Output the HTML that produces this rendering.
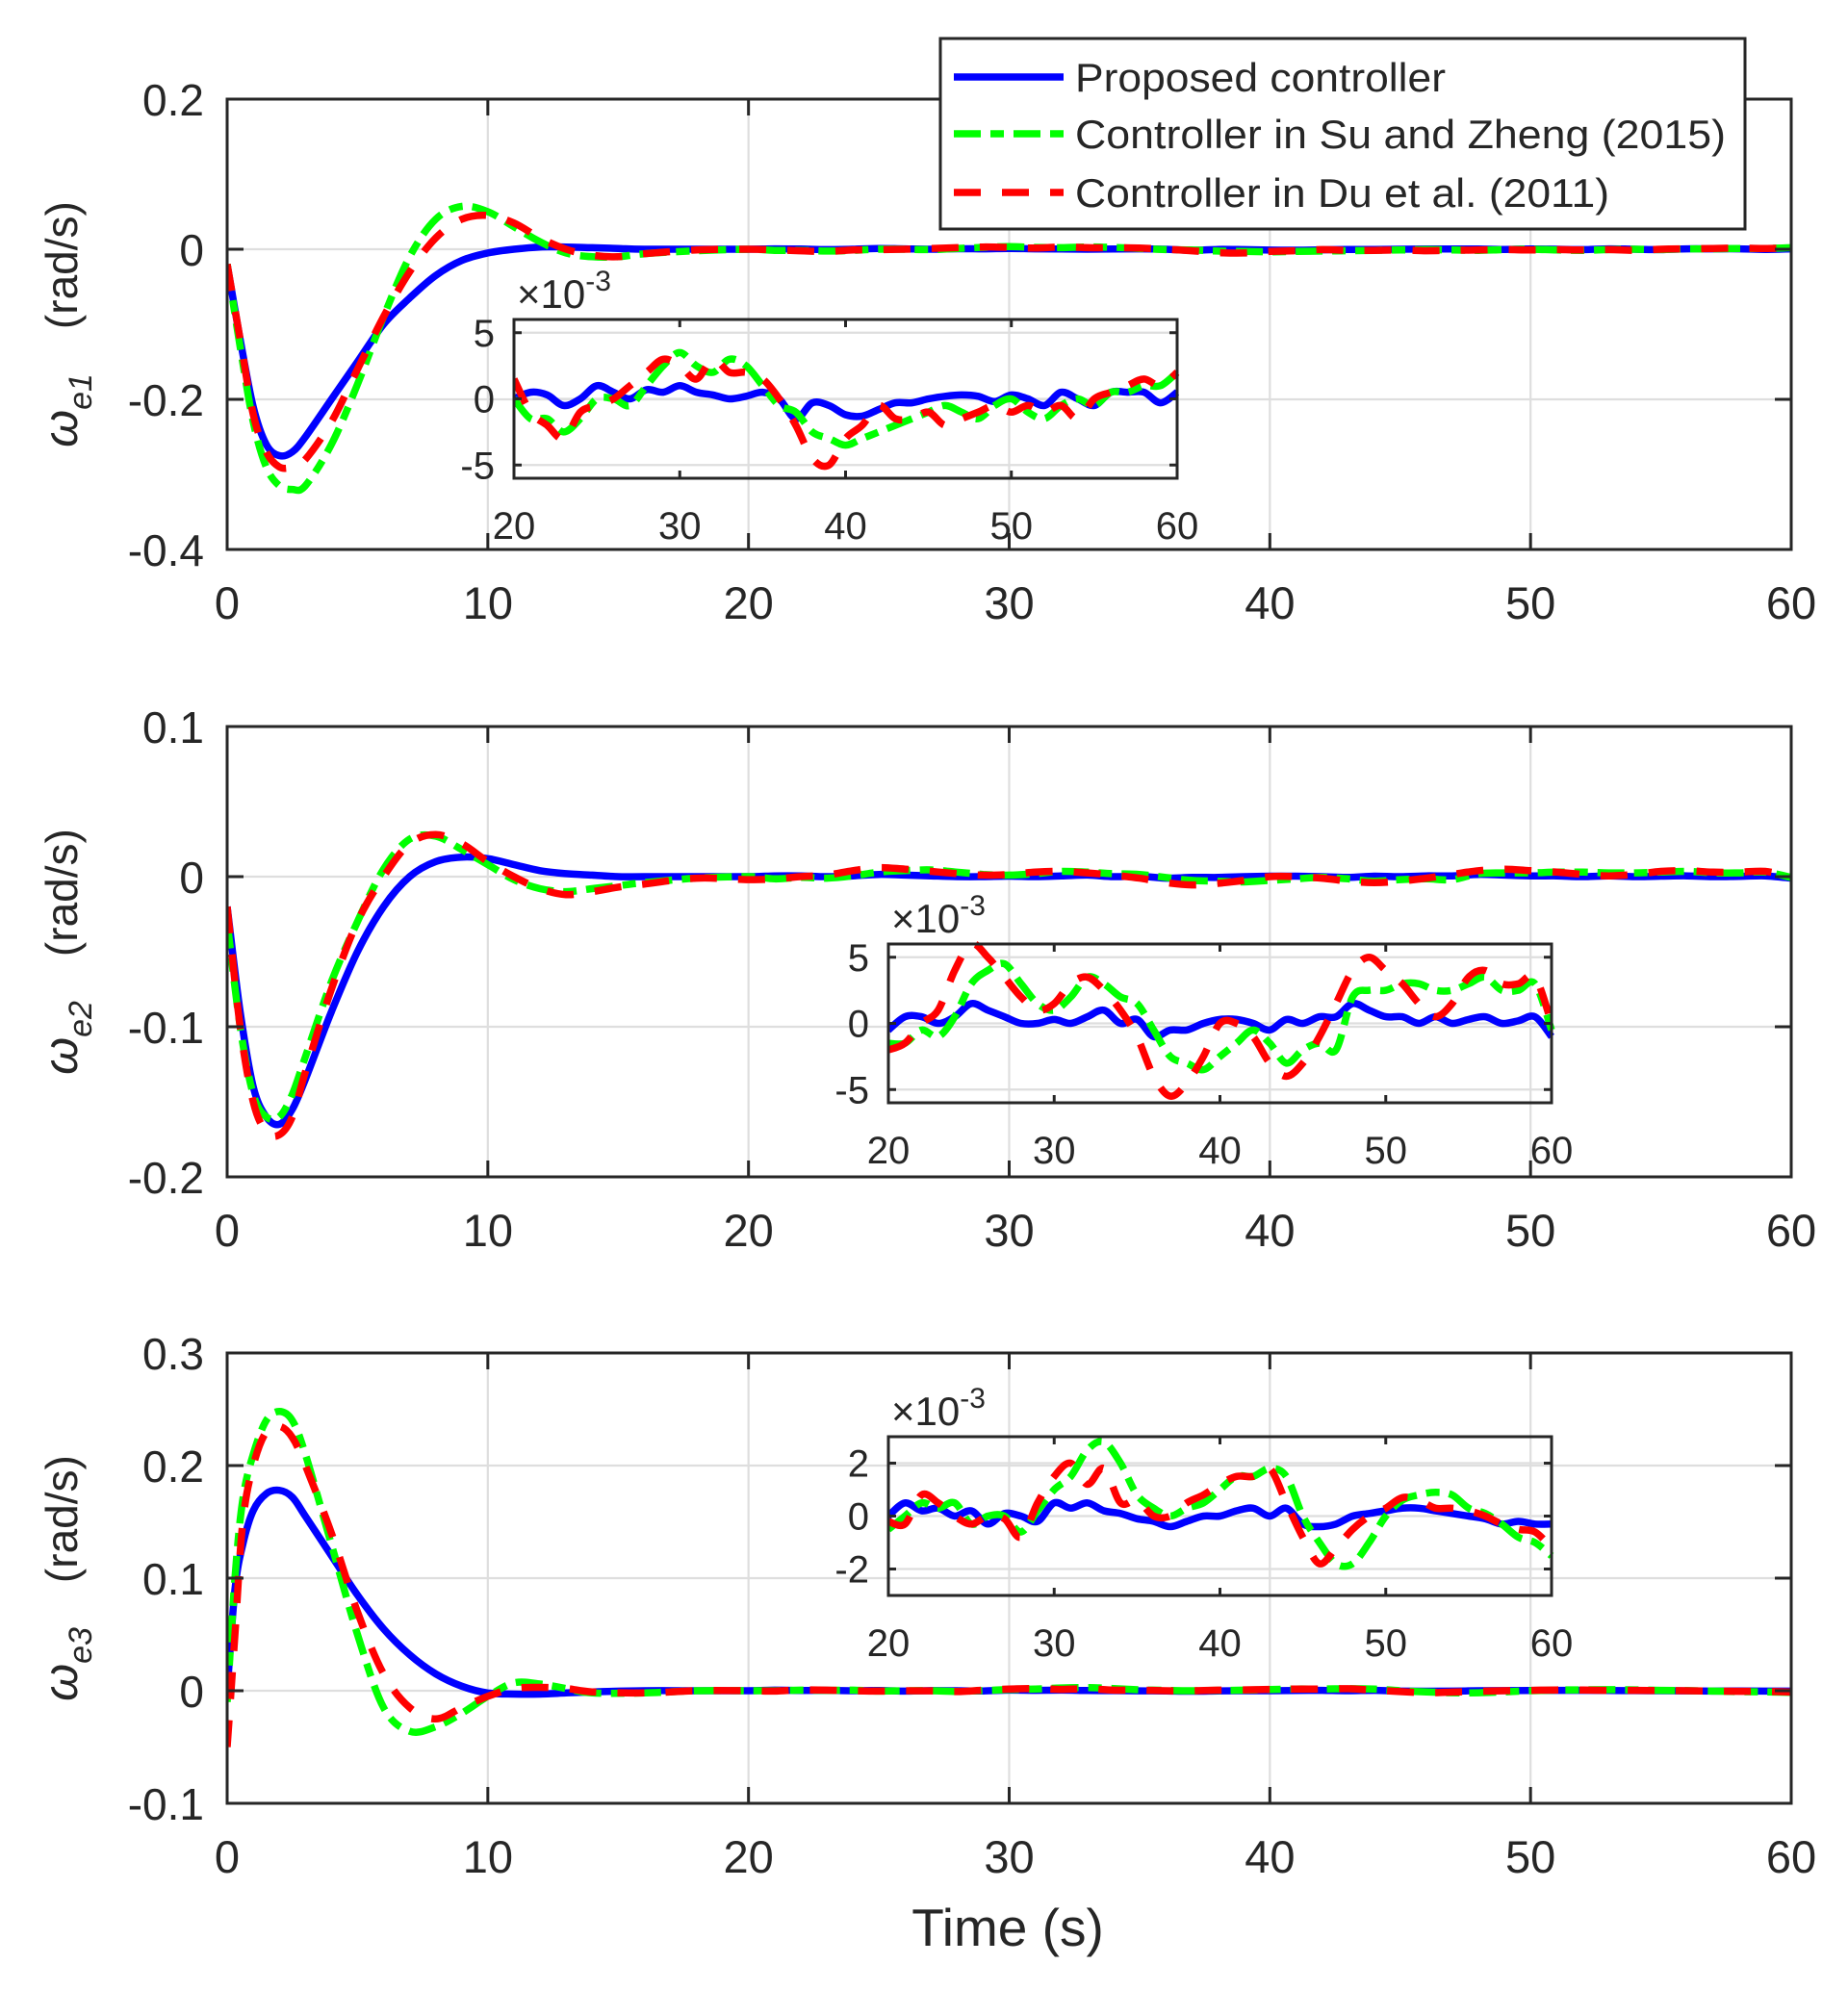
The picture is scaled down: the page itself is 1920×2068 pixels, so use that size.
<!DOCTYPE html>
<html><head><meta charset="utf-8"><style>
html,body{margin:0;padding:0;background:#fff;}
svg{display:block;}
text{font-family:"Liberation Sans",Arial,sans-serif;fill:#262626;}
</style></head><body>
<svg id="fig" width="1920" height="2068" viewBox="0 0 1920 2068" xmlns="http://www.w3.org/2000/svg"></svg>
<script>
// ---- data ----
const xTicks = [0,10,20,30,40,50,60];
const insetXTicks = [20,30,40,50,60];
// panel 1 (0..20 s)
const p1T = [0,0.5,1,1.5,2,2.5,3,4,5,6,7,8,9,10,11,12,13,14,15,16,18,20];
const p1Blue = [-0.02,-0.12,-0.21,-0.26,-0.275,-0.27,-0.25,-0.2,-0.15,-0.1,-0.065,-0.035,-0.015,-0.005,0,0.003,0.003,0.002,0.001,0,0,0];
const p1Green = [-0.02,-0.13,-0.23,-0.29,-0.315,-0.32,-0.315,-0.26,-0.18,-0.09,-0.01,0.04,0.057,0.05,0.03,0.01,-0.005,-0.01,-0.01,-0.006,-0.002,0];
const p1Red = [-0.02,-0.12,-0.22,-0.27,-0.29,-0.29,-0.28,-0.23,-0.16,-0.09,-0.03,0.015,0.04,0.045,0.035,0.015,0,-0.008,-0.01,-0.006,-0.001,0];
// panel 2
const p2T = [0,0.5,1,1.5,2,2.5,3,4,5,6,7,8,9,10,11,12,13,14,15,16,18,20];
const p2Blue = [-0.02,-0.09,-0.14,-0.16,-0.165,-0.155,-0.135,-0.09,-0.05,-0.02,0,0.01,0.013,0.012,0.008,0.004,0.002,0.001,0,0,0,0];
const p2Green = [-0.03,-0.1,-0.145,-0.16,-0.16,-0.145,-0.12,-0.07,-0.03,0.005,0.025,0.027,0.018,0.008,-0.002,-0.008,-0.01,-0.008,-0.006,-0.004,-0.001,0];
const p2Red = [-0.02,-0.1,-0.15,-0.17,-0.172,-0.16,-0.13,-0.075,-0.03,0,0.022,0.028,0.022,0.01,0,-0.008,-0.012,-0.01,-0.007,-0.005,-0.001,-0.002];
// panel 3
const p3T = [0,0.3,0.6,1,1.5,2,2.5,3,4,5,6,7,8,9,10,11,12,13,14,16,18,20];
const p3Blue = [0,0.09,0.13,0.16,0.175,0.178,0.172,0.155,0.12,0.085,0.055,0.032,0.015,0.004,-0.002,-0.003,-0.003,-0.002,-0.001,0,0,0];
const p3Green = [-0.01,0.1,0.17,0.21,0.24,0.248,0.24,0.21,0.13,0.05,-0.015,-0.036,-0.032,-0.02,-0.005,0.007,0.006,0.002,-0.002,-0.002,0,0];
const p3Red = [-0.05,0.05,0.15,0.2,0.23,0.235,0.225,0.2,0.14,0.07,0.015,-0.015,-0.025,-0.015,-0.005,0.002,0.003,0.002,-0.001,-0.002,0,0];
// insets (20..60 s, x1e-3)
const inT = [20,21,22,23,24,25,26,27,28,29,30,31,32,33,34,35,36,37,38,39,40,41,42,43,44,45,46,47,48,49,50,51,52,53,54,55,56,57,58,59,60];
const in1Blue = [0,0.5,0.3,-0.5,0,1,0.5,0,0.7,0.5,1,0.5,0.3,0,0.2,0.5,0,-1.5,-0.3,-0.5,-1.2,-1.3,-0.8,-0.3,-0.3,0,0.2,0.3,0.2,-0.2,0.3,0,-0.5,0.5,0,-0.5,0.5,0.5,0.5,-0.3,0.5];
const in1Green = [0,-1.5,-1.5,-2.5,-1.5,0,0,-0.5,1,2.5,3.5,2.5,2,3,2.5,1,-0.5,-1,-2.5,-3,-3.5,-3,-2.5,-2,-1.5,-1,-0.5,-1,-1.5,-0.5,0,-1,-1.5,-0.5,0,-0.5,0.5,0.5,1,1,2];
const in1Red = [1.5,-1,-2,-3,-1,-0.5,0,1,2,3,2.5,1.5,3,2,2,1.5,0,-2,-4.5,-5,-3,-2,-0.5,-1.5,-1.5,-1,-2,-1.5,-1,-0.5,-1,-0.5,-1,-0.5,-1.5,0,0.5,1,1.5,1,2];
const in2Blue = [-0.5,0.5,0.5,0,0.5,1.5,1,0.5,0,0,0.3,0,0.5,1,0,0.3,-1,-0.5,-0.5,0,0.3,0.3,0,-0.5,0.3,0,0.5,0.5,1.5,1,0.5,0.5,0,0.5,0,0.3,0.5,0,0.2,0.5,-1];
const in2Green = [-1.5,-1.5,-0.5,-1,0.5,3,4,4.5,3,1.5,1,2,3.5,3,2,1.5,-0.5,-2.5,-3,-3.5,-2.5,-1.5,-0.5,-1.5,-3,-2,-1.5,-2,2,2.5,2.5,3,3,2.5,2.5,3,3.5,2.5,2.5,3,-0.5];
const in2Red = [-2,-1.5,0,1,4,6,5,3.5,2,1,1.5,3,3.5,2.5,1,-1,-4,-5.5,-4.5,-2.5,0,0,-1,-3,-4,-3,-1,1.5,4,5,4,3,1.5,0.5,1.5,3.5,4,3,3,3.5,0];
const in3Blue = [0,0.5,0.2,0.3,0,0.2,-0.3,0.1,0,-0.2,0.5,0.3,0.5,0.2,0.1,-0.1,-0.2,-0.4,-0.2,0,0,0.2,0.3,0,0.3,-0.3,-0.4,-0.3,0,0.1,0.2,0.3,0.3,0.2,0.1,0,-0.1,-0.3,-0.2,-0.3,-0.3];
const in3Green = [-0.5,0,0.5,0.3,0.5,-0.3,0,0,-0.6,0.2,1,1.5,2.5,2.8,2,0.8,0.3,0,0.3,0.5,1,1.5,1.5,1.8,1.5,0,-1,-1.8,-1.8,-1,0,0.6,0.8,0.9,0.8,0.3,0.1,-0.3,-0.8,-1,-1.5];
const in3Red = [-0.2,-0.3,0.8,0.5,0,-0.3,0,-0.1,-0.8,0.5,1.5,2,1.2,1.8,0.5,0.6,0,0,0.5,0.8,1.2,1.5,1.5,1.8,0.5,-0.8,-1.8,-1.2,-0.5,0,0.3,0.7,0.6,0.3,0.3,0.2,0,-0.3,-0.5,-0.6,-1.2];
const p1YTicks = [-0.4,-0.2,0,0.2], p1YLabels = ["-0.4","-0.2","0","0.2"];
const p2YTicks = [-0.2,-0.1,0,0.1], p2YLabels = ["-0.2","-0.1","0","0.1"];
const p3YTicks = [-0.1,0,0.1,0.2,0.3], p3YLabels = ["-0.1","0","0.1","0.2","0.3"];
const in1YTicks = [-5,0,5], in2YTicks = [-5,0,5], in3YTicks = [-2,0,2];

// ---- drawing ----
const NS = "http://www.w3.org/2000/svg";
const svg = document.getElementById('fig');
function mk(tag, attrs, parent){
  const e = document.createElementNS(NS, tag);
  for (const k in attrs) e.setAttribute(k, attrs[k]);
  (parent||svg).appendChild(e); return e;
}
const COL = {blue:'#0000ff', green:'#00ff00', red:'#ff0000'};
const DASH = {blue:null, green:'28 10 14 10', red:'28 22'};
const AX = '#262626';

function pathD(xs, ys, sx, sy){
  const P = xs.map((x,i)=>[sx(x), sy(ys[i])]);
  let d = 'M'+P[0][0].toFixed(1)+','+P[0][1].toFixed(1);
  for (let i=0;i<P.length-1;i++){
    const p0=P[Math.max(0,i-1)], p1=P[i], p2=P[i+1], p3=P[Math.min(P.length-1,i+2)];
    const c1=[p1[0]+(p2[0]-p0[0])/6, p1[1]+(p2[1]-p0[1])/6];
    const c2=[p2[0]-(p3[0]-p1[0])/6, p2[1]-(p3[1]-p1[1])/6];
    d += 'C'+c1[0].toFixed(1)+','+c1[1].toFixed(1)+' '+c2[0].toFixed(1)+','+c2[1].toFixed(1)+' '+p2[0].toFixed(1)+','+p2[1].toFixed(1);
  }
  return d;
}

function drawSeries(g, xs, ys, sx, sy, key, name){
  const p = mk('path', {d:pathD(xs,ys,sx,sy), fill:'none', stroke:COL[key], 'stroke-width':7.5, 'stroke-linejoin':'round'}, g);
  if (DASH[key]) p.setAttribute('stroke-dasharray', DASH[key]);
  
  
}

function panel(idx, top, ymin, ymax, yTicks, yLabels, T, B, G, R, inB, inG, inR, inset){
  const L=236, Rt=1861, H=468, bottom=top+H;
  const sx = x => L + (x-0)/(60-0)*(Rt-L);
  const sy = y => bottom - (y-ymin)/(ymax-ymin)*H;
  const g = mk('g', {});
  
  
  const clipId = 'clip'+idx;
  const cp = mk('clipPath', {id:clipId}, g);
  mk('rect', {x:L, y:top, width:Rt-L, height:H}, cp);
  const grid = mk('g', {stroke:'#dedede','stroke-width':2.2}, g);
  
  
  xTicks.forEach(t=>{ if(t>0&&t<60) mk('line',{x1:sx(t),x2:sx(t),y1:top,y2:bottom},grid); });
  yTicks.forEach(t=>{ if(t>ymin&&t<ymax) mk('line',{x1:L,x2:Rt,y1:sy(t),y2:sy(t)},grid); });
  const series = mk('g', {'clip-path':'url(#'+clipId+')'}, g);
  const comb = (mainY, insY) => ({x: T.concat(inT.slice(1)), y: mainY.concat(insY.slice(1).map(v=>v*1e-3))});
  const cb = comb(B, inB), cg = comb(G, inG), cr = comb(R, inR);
  drawSeries(series, cb.x, cb.y, sx, sy, 'blue', 'proposed-line-'+idx);
  drawSeries(series, cg.x, cg.y, sx, sy, 'green', 'su-zheng-line-'+idx);
  drawSeries(series, cr.x, cr.y, sx, sy, 'red', 'du-line-'+idx);
  const ax = mk('g', {stroke:AX,'stroke-width':3,fill:'none'}, g);
  mk('rect',{x:L,y:top,width:Rt-L,height:H},ax);
  xTicks.forEach(t=>{ mk('line',{x1:sx(t),x2:sx(t),y1:bottom,y2:bottom-17},ax); mk('line',{x1:sx(t),x2:sx(t),y1:top,y2:top+17},ax); });
  yTicks.forEach(t=>{ mk('line',{x1:L,x2:L+17,y1:sy(t),y2:sy(t)},ax); mk('line',{x1:Rt,x2:Rt-17,y1:sy(t),y2:sy(t)},ax); });
  xTicks.forEach(t=>{
    const tx = mk('text',{x:sx(t), y:bottom+72, 'font-size':47, 'text-anchor':'middle'}, g);
    tx.textContent = t;
    
    
  });
  yTicks.forEach((t,i)=>{
    const tx = mk('text',{x:212, y:sy(t)+17, 'font-size':46, 'text-anchor':'end'}, g);
    tx.textContent = yLabels[i];
    
    
  });
  const cy = (top+bottom)/2;
  const yl = mk('text',{transform:'translate(80,'+cy+') rotate(-90)', 'font-size':46, 'text-anchor':'middle'}, g);
  
  
  const t1 = mk('tspan',{'font-style':'italic','font-size':50}, yl); t1.textContent='ω';
  const t2 = mk('tspan',{'font-size':34,'font-style':'italic',dy:15}, yl); t2.textContent='e'+idx;
  const t3 = mk('tspan',{dy:-15}, yl); t3.textContent='\u2002\u2002(rad/s)';

  // inset
  const iL=inset.x, iR=inset.x+689, iT=inset.y, iB=inset.y+165;
  const ix = x => iL + (x-20)/40*(iR-iL);
  const iy = y => iB - (y-inset.ymin)/(inset.ymax-inset.ymin)*(iB-iT);
  const ig = mk('g', {}, g);
  
  
  const icId='iclip'+idx;
  const icp = mk('clipPath',{id:icId}, ig);
  mk('rect',{x:iL,y:iT-6,width:iR-iL+4,height:iB-iT+12},icp);
  const igrid = mk('g',{stroke:'#dedede','stroke-width':2.2}, ig);
  inset.ticks.forEach(t=>mk('line',{x1:iL,x2:iR,y1:iy(t),y2:iy(t)},igrid));
  const is = mk('g',{'clip-path':'url(#'+icId+')'}, ig);
  drawSeries(is, inT, inB, ix, iy, 'blue', 'inset-proposed-line-'+idx);
  drawSeries(is, inT, inG, ix, iy, 'green', 'inset-su-zheng-line-'+idx);
  drawSeries(is, inT, inR, ix, iy, 'red', 'inset-du-line-'+idx);
  const iax = mk('g',{stroke:AX,'stroke-width':3,fill:'none'}, ig);
  mk('rect',{x:iL,y:iT,width:iR-iL,height:iB-iT},iax);
  insetXTicks.forEach(t=>{ mk('line',{x1:ix(t),x2:ix(t),y1:iB,y2:iB-8},iax); mk('line',{x1:ix(t),x2:ix(t),y1:iT,y2:iT+8},iax); });
  inset.ticks.forEach(t=>{ mk('line',{x1:iL,x2:iL+8,y1:iy(t),y2:iy(t)},iax); mk('line',{x1:iR,x2:iR-8,y1:iy(t),y2:iy(t)},iax); });
  insetXTicks.forEach(t=>{
    const tx = mk('text',{x:ix(t), y:iB+63, 'font-size':40, 'text-anchor':'middle'}, ig);
    tx.textContent = t;
    
    
  });
  inset.ticks.forEach(t=>{
    const tx = mk('text',{x:iL-20, y:iy(t)+14, 'font-size':40, 'text-anchor':'end'}, ig);
    tx.textContent = t;
    
    
  });
  const ex = mk('text',{x:iL+3, y:iT-12, 'font-size':42}, ig);
  
  
  const e1 = mk('tspan',{}, ex); e1.textContent='×10';
  const e2 = mk('tspan',{dy:-18,'font-size':30}, ex); e2.textContent='-3';
}

panel(1, 103, -0.4, 0.2, p1YTicks, p1YLabels, p1T, p1Blue, p1Green, p1Red, in1Blue, in1Green, in1Red, {x:534,y:332,ymin:-6,ymax:6,ticks:in1YTicks});
panel(2, 755, -0.2, 0.1, p2YTicks, p2YLabels, p2T, p2Blue, p2Green, p2Red, in2Blue, in2Green, in2Red, {x:923,y:981,ymin:-6,ymax:6,ticks:in2YTicks});
panel(3, 1406, -0.1, 0.3, p3YTicks, p3YLabels, p3T, p3Blue, p3Green, p3Red, in3Blue, in3Green, in3Red, {x:923,y:1493,ymin:-3,ymax:3,ticks:in3YTicks});

const xt = mk('text',{x:1047, y:2022, 'font-size':55, 'text-anchor':'middle'});
xt.textContent = 'Time (s)';



const lg = mk('g',{});


mk('rect',{x:977,y:40,width:836,height:198,fill:'#fff',stroke:AX,'stroke-width':3},lg);
const legNames = ['Proposed controller','Controller in Su and Zheng (2015)','Controller in Du et al. (2011)'];
const legKeys = ['blue','green','red'];
const legRows = [80,139,200];
const legLens = [385,676,555];
legKeys.forEach((k,i)=>{
  const entry = mk('g',{},lg);
  
  
  const ln = mk('line',{x1:991,x2:1105,y1:legRows[i],y2:legRows[i],stroke:COL[k],'stroke-width':7.5},entry);
  if (DASH[k]) ln.setAttribute('stroke-dasharray', DASH[k]);
  const tx = mk('text',{x:1117,y:legRows[i]+15,'font-size':42,fill:'#000',textLength:legLens[i],lengthAdjust:'spacingAndGlyphs'},entry);
  tx.textContent = legNames[i];
});
</script>
</body></html>
